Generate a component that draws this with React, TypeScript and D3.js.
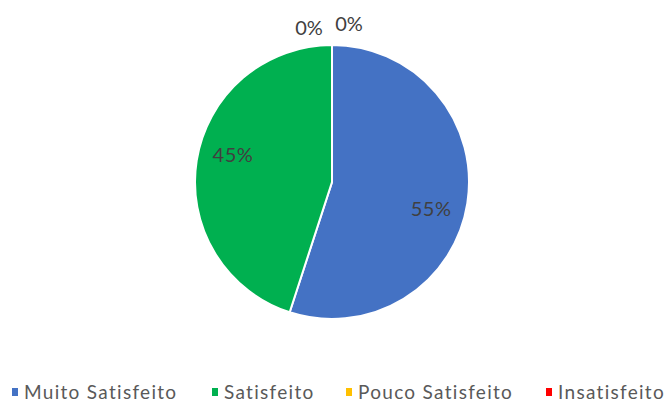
import React, { useEffect, useRef } from 'react'
import * as d3 from 'd3'

const categories = ['Muito Satisfeito', 'Satisfeito', 'Pouco Satisfeito', 'Insatisfeito']
const values = [55, 45, 0, 0]
const colors = ['#4472C4', '#00B050', '#FFC000', '#FF0000']

const width = 666
const height = 403

export default function App() {
  const ref = useRef<SVGSVGElement>(null)

  useEffect(() => {
    const svg = d3.select(ref.current)
    svg.selectAll('*').remove()

    const cx = 332
    const cy = 182
    const radius = 137

    const data = categories.map((c, i) => ({ name: c, value: values[i], color: colors[i] }))

    const pie = d3.pie<any>().sort(null).value((d: any) => d.value)
    const arcs = pie(data)
    const arc = d3.arc<any>().innerRadius(0).outerRadius(radius)

    const g = svg.append('g').attr('transform', 'translate(' + cx + ',' + cy + ')')

    g.selectAll('path')
      .data(arcs.filter(a => a.value > 0))
      .enter().append('path')
      .attr('d', arc)
      .style('fill', (d: any) => d.data.color)
      .style('stroke', '#fff')
      .style('stroke-width', 2)

    const total = d3.sum(values)
    const fmt = (v: number) => Math.round((v / total) * 100) + '%'

    // label spot: a bit past the slice middle, like excel's best fit
    const labelR = radius * 0.75
    const labelPos = (d: any) => {
      const a = (d.startAngle + d.endAngle) / 2 + 0.11
      return [labelR * Math.sin(a), -labelR * Math.cos(a)]
    }

    g.selectAll('text.inside')
      .data(arcs.filter(a => a.value > 0))
      .enter().append('text')
      .attr('class', 'inside')
      .attr('x', (d: any) => labelPos(d)[0])
      .attr('y', (d: any) => labelPos(d)[1])
      .attr('dy', '0.35em')
      .attr('text-anchor', 'middle')
      .style('font-family', 'Lato, sans-serif')
      .style('font-size', '20px')
      .style('letter-spacing', '0.5px')
      .style('fill', '#404040')
      .text((d: any) => fmt(d.value))

    // zero slices sit at the top, labels pushed outside
    const zeros = arcs.filter(a => a.value === 0)
    g.selectAll('text.zero')
      .data(zeros)
      .enter().append('text')
      .attr('class', 'zero')
      .attr('x', (d: any, i: number) => (i === 0 ? -23 : 17))
      .attr('y', (d: any, i: number) => -radius - (i === 0 ? 17.5 : 21))
      .attr('dy', '0.35em')
      .attr('text-anchor', 'middle')
      .style('font-family', 'Lato, sans-serif')
      .style('font-size', '20px')
      .style('fill', '#404040')
      .text((d: any) => fmt(d.value))

    // legend
    const legendX = [12, 212, 346, 546]
    const legend = svg.append('g').attr('transform', 'translate(0,392)')
    const items = legend.selectAll('g')
      .data(data)
      .enter().append('g')
      .attr('transform', (d, i) => 'translate(' + legendX[i] + ',0)')

    items.append('rect')
      .attr('x', 0)
      .attr('y', -4)
      .attr('width', 6)
      .attr('height', 8)
      .style('fill', d => d.color)

    items.append('text')
      .attr('x', 12)
      .attr('dy', '0.35em')
      .style('font-family', 'Lato, sans-serif')
      .style('font-size', '19px')
      .style('letter-spacing', '1.3px')
      .style('fill', '#595959')
      .text(d => d.name)
  }, [])

  return (
    <div style={{ position: 'absolute', left: 0, top: 0 }}>
      <svg ref={ref} width={width} height={height} style={{ display: 'block', background: '#fff' }} />
    </div>
  )
}
